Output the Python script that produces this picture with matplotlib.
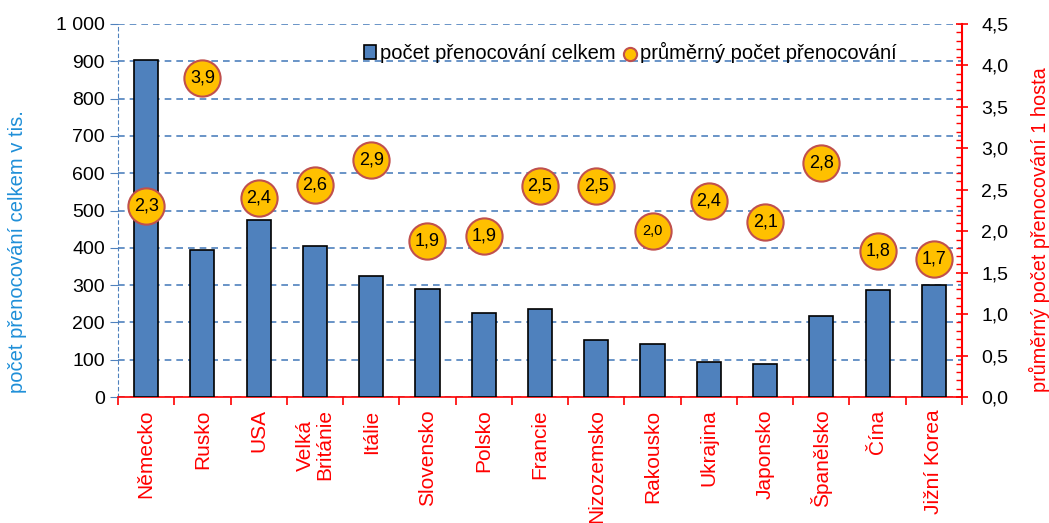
import numpy as np
import matplotlib.pyplot as plt
from matplotlib.ticker import MultipleLocator, FuncFormatter

plt.rcParams['font.family'] = ['Liberation Sans', 'DejaVu Sans']

# data
countries = ['Německo', 'Rusko', 'USA', 'Velká\nBritánie', 'Itálie', 'Slovensko', 'Polsko',
             'Francie', 'Nizozemsko', 'Rakousko', 'Ukrajina', 'Japonsko', 'Španělsko',
             'Čína', 'Jižní Korea']
total = [903, 394, 474, 405, 324, 290, 225, 236, 153, 142, 94, 88, 217, 287, 300]
avg = [2.30, 3.85, 2.40, 2.56, 2.86, 1.88, 1.94, 2.54, 2.54, 2.00, 2.36, 2.11, 2.82, 1.76, 1.66]
avg_labels = ['2,3', '3,9', '2,4', '2,6', '2,9', '1,9', '1,9', '2,5', '2,5', '2,0',
              '2,4', '2,1', '2,8', '1,8', '1,7']

blue = '#4F81BD'
red = '#FF0000'

fig = plt.figure(figsize=(10.49, 5.23), dpi=100)
ax = fig.add_axes([118/1049, 1 - 397/523, (962-118)/1049, (397-24)/523])
x = np.arange(len(countries))

ax.bar(x, total, width=0.43, color=blue, edgecolor='black', linewidth=1.2, zorder=3,
       label='počet přenocování celkem')
ax.set_xlim(-0.5, len(countries) - 0.5)
ax.set_ylim(0, 1000)
ax.yaxis.set_major_locator(MultipleLocator(100))
ax.yaxis.set_major_formatter(FuncFormatter(lambda v, p: '1 000' if v == 1000 else f'{int(v)}'))
ax.grid(axis='y', color=blue, linestyle=(0, (4, 3)), linewidth=1.2, zorder=0)
ax.tick_params(axis='y', labelsize=14, length=6, color=blue, direction='out')
ax.set_ylabel('počet přenocování celkem v tis.', color='#1F8FD8', fontsize=14.5)
ax.yaxis.set_label_coords(-0.108, 0.39)

ax.spines['top'].set_visible(False)
ax.spines['right'].set_visible(False)
ax.spines['left'].set_color(blue)
ax.spines['left'].set_linestyle((0, (3, 3)))
ax.spines['bottom'].set_color(red)
ax.spines['bottom'].set_linewidth(1.2)

ax.set_xticks(x)
ax.set_xticklabels(countries, rotation=90, color=red, fontsize=15, va='top', ha='center',
                   linespacing=1.0)
ax.set_xticks(np.arange(-0.5, len(countries)), minor=True)
ax.tick_params(axis='x', which='major', length=0, pad=9)
ax.tick_params(axis='x', which='minor', length=6, color=red, width=1.2)

ax2 = ax.twinx()
ax2.scatter(x, avg, s=680, color='#FFC000', edgecolor='#C0504D', linewidth=1.5, zorder=4,
            label='průměrný počet přenocování')
for xi, yi, t in zip(x, avg, avg_labels):
    ax2.text(xi, yi, t, ha='center', va='center', fontsize=13 if t != '2,0' else 10.5,
             family=['Liberation Sans'], zorder=5)
ax2.set_ylim(0, 4.5)
ax2.yaxis.set_major_locator(MultipleLocator(0.5))
ax2.yaxis.set_minor_locator(MultipleLocator(0.1))
ax2.yaxis.set_major_formatter(FuncFormatter(lambda v, p: f'{v:.1f}'.replace('.', ',')))
ax2.tick_params(axis='y', which='major', labelsize=14, length=8, color=red, width=1.2,
                direction='inout', pad=10)
ax2.tick_params(axis='y', which='minor', length=4, color=red, width=1.0, direction='in')
ax2.set_ylabel('průměrný počet přenocování 1 hosta', color=red, fontsize=14.3)
ax2.yaxis.set_label_coords(1.079, 0.448)
for s in ['top', 'left', 'bottom']:
    ax2.spines[s].set_visible(False)
ax2.spines['right'].set_color(red)
ax2.spines['right'].set_linewidth(1.5)

h1, l1 = ax.get_legend_handles_labels()
h2, l2 = ax2.get_legend_handles_labels()
leg = ax.legend(h1 + h2, l1 + l2, loc='upper left', bbox_to_anchor=(0.27, 1.0), ncol=2,
                frameon=False, fontsize=14.5, handlelength=0.6, handletextpad=0.2,
                columnspacing=0.4)
for h in leg.legend_handles:
    try:
        h.set_sizes([90])
    except AttributeError:
        pass

fig.savefig('out.png', dpi=100)
